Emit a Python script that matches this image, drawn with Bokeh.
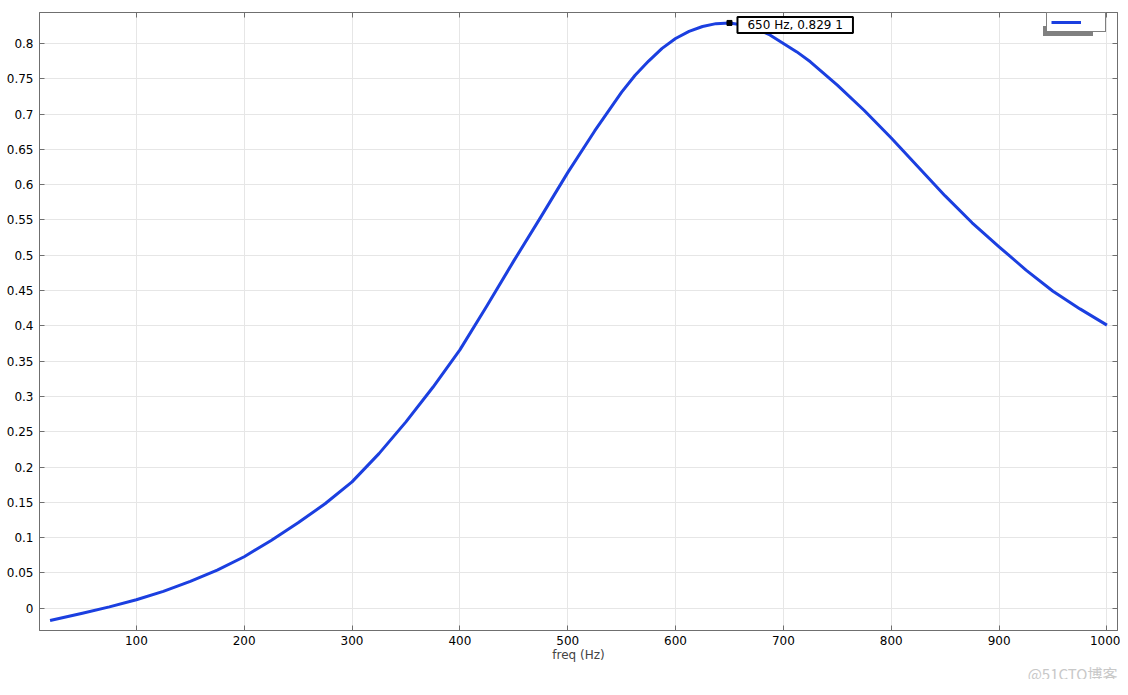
from bokeh.plotting import figure
from bokeh.models import (Range1d, LinearAxis, FixedTicker, CustomJSTickFormatter,
                          Legend, LegendItem, Label, Title)
from bokeh.embed import file_html
from bokeh.resources import INLINE

# ---- data ----
freq = [20, 50, 75, 100, 125, 150, 175, 200, 225, 250, 275, 300, 325, 350, 375, 400,
        425, 450, 475, 500, 525, 550, 562.5, 575, 587.5, 600, 612.5, 625, 637.5, 650,
        662.5, 675, 687.5, 700, 712.5, 725, 750, 775, 800, 825, 850, 875, 900, 925,
        950, 975, 1000]
resp = [-0.0174, -0.007, 0.002, 0.012, 0.024, 0.038, 0.054, 0.073, 0.096, 0.121, 0.148,
        0.179, 0.219, 0.264, 0.313, 0.366, 0.428, 0.492, 0.554, 0.617, 0.676, 0.731,
        0.755, 0.775, 0.793, 0.807, 0.817, 0.824, 0.828, 0.829, 0.826, 0.821, 0.812,
        0.800, 0.788, 0.774, 0.741, 0.705, 0.666, 0.625, 0.584, 0.546, 0.512, 0.479,
        0.449, 0.424, 0.401]
peak_f = [650]
peak_v = [0.829]
peak_text = "650 Hz, 0.829 1"
x_ticks = [100, 200, 300, 400, 500, 600, 700, 800, 900, 1000]
y_ticks = [round(0.05 * i, 2) for i in range(0, 17)]
x_label = "freq (Hz)"
watermark = "@51CTO博客"

FONT = "DejaVu Sans"
BLUE = "#1b3fe0"
FRAME = "#6f6f6f"

p = figure(width=1120, height=679, output_backend="svg", toolbar_location=None,
           x_range=Range1d(10.2, 1009.8), y_range=Range1d(-0.0315, 0.8438),
           min_border_left=39, min_border_right=3, min_border_top=12, min_border_bottom=34,
           background_fill_color="white", border_fill_color="white")
p.outline_line_color = FRAME
p.outline_line_width = 1

fmt = CustomJSTickFormatter(code="return String(Number(tick.toFixed(2)));")
blank = CustomJSTickFormatter(code="return '';")

for ax in (p.xaxis[0], p.yaxis[0]):
    ax.major_tick_in = 5
    ax.major_tick_out = 0
    ax.minor_tick_in = 0
    ax.minor_tick_out = 0
    ax.axis_line_color = FRAME
    ax.major_tick_line_color = FRAME
    ax.major_label_text_font = FONT
    ax.major_label_text_font_size = "12px"
    ax.major_label_text_color = "black"

p.xaxis[0].ticker = FixedTicker(ticks=x_ticks)
p.yaxis[0].ticker = FixedTicker(ticks=y_ticks)
p.yaxis[0].formatter = fmt
p.xaxis[0].formatter = fmt
p.xaxis[0].major_label_standoff = 5
p.yaxis[0].major_label_standoff = 6
p.xaxis[0].axis_label = x_label
p.xaxis[0].axis_label_text_font = FONT
p.xaxis[0].axis_label_text_font_size = "12px"
p.xaxis[0].axis_label_text_font_style = "normal"
p.xaxis[0].axis_label_standoff = 0

# top and right axes: inward ticks only
for loc, tk in (("above", x_ticks), ("right", y_ticks)):
    ax = LinearAxis(ticker=FixedTicker(ticks=tk), formatter=blank,
                    major_tick_in=5, major_tick_out=0,
                    minor_tick_in=0, minor_tick_out=0, axis_line_color=FRAME,
                    major_tick_line_color=FRAME, major_label_standoff=0)
    p.add_layout(ax, loc)

p.xgrid.ticker = FixedTicker(ticks=x_ticks)
p.ygrid.ticker = FixedTicker(ticks=y_ticks)
p.grid.grid_line_color = "#e6e6e6"
p.grid.grid_line_width = 1

line = p.line(freq, resp, line_color=BLUE, line_width=3, line_join="round")
ghost = p.line(freq, resp, line_alpha=0)

p.scatter(peak_f, peak_v, marker="square", size=5, color="black")
lab = Label(x=peak_f[0], y=peak_v[0], text=peak_text, x_offset=8, y_offset=-2,
            text_font=FONT, text_font_size="12px", text_baseline="middle",
            text_color="black", background_fill_color="white",
            border_line_color="black", border_line_width=2, padding=(10, 1))
p.add_layout(lab)

# legend shadow + legend
shadow = Legend(items=[LegendItem(label=" ", renderers=[ghost])], location=(1004, 594),
                padding=4, glyph_width=30, glyph_height=10, label_standoff=20,
                label_width=0, label_text_font_size="12px", margin=0, spacing=0,
                background_fill_color="#808080", background_fill_alpha=1,
                border_line_color=None)
leg = Legend(items=[LegendItem(label=" ", renderers=[line])], location=(1007, 598),
             padding=4, glyph_width=30, glyph_height=10, label_standoff=20,
             label_width=0, label_text_font_size="12px", margin=0, spacing=0,
             background_fill_color="white", background_fill_alpha=1,
             border_line_color="black", border_line_width=1)
p.add_layout(shadow)
p.add_layout(leg)

wm = Title(text=watermark, align="right", text_font="Noto Sans CJK SC",
           text_font_size="15px", text_font_style="normal", text_color="#c8c8c8",
           standoff=-8)
p.add_layout(wm, "below")

open("out.html", "w").write(file_html(p, INLINE))
